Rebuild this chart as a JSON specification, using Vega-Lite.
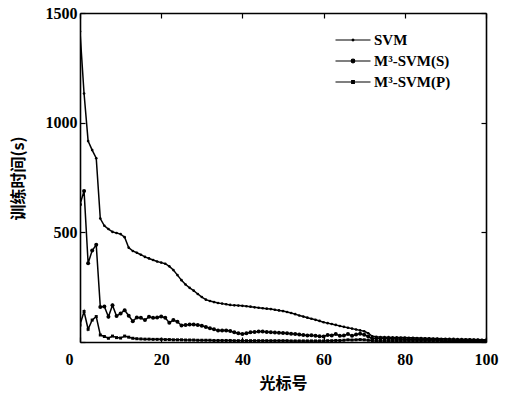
{
  "$schema": "https://vega.github.io/schema/vega-lite/v6.json",
  "autosize": "none",
  "width": 406,
  "height": 329,
  "padding": {"left": 80, "top": 13, "right": 20, "bottom": 54},
  "background": "white",
  "config": {
    "view": {"stroke": null},
    "font": "Liberation Serif",
    "axis": {"grid": false, "domainColor": "black", "domainWidth": 1.6, "tickColor": "black", "tickWidth": 1.2, "labelColor": "black", "titleColor": "black"}
  },
  "data": {
    "values": [
      {"x":0,"SVM":1416,"S":627,"P":78},
      {"x":1,"SVM":1133,"S":689,"P":139},
      {"x":2,"SVM":916,"S":359,"P":58},
      {"x":3,"SVM":875,"S":417,"P":100},
      {"x":4,"SVM":838,"S":443,"P":116},
      {"x":5,"SVM":563,"S":160,"P":32},
      {"x":6,"SVM":530,"S":162,"P":25},
      {"x":7,"SVM":515,"S":115,"P":17},
      {"x":8,"SVM":502,"S":168,"P":27},
      {"x":9,"SVM":497,"S":118,"P":20},
      {"x":10,"SVM":492,"S":130,"P":18},
      {"x":11,"SVM":478,"S":145,"P":27},
      {"x":12,"SVM":430,"S":120,"P":22},
      {"x":13,"SVM":415,"S":95,"P":17},
      {"x":14,"SVM":407,"S":112,"P":15},
      {"x":15,"SVM":398,"S":110,"P":14},
      {"x":16,"SVM":388,"S":100,"P":13},
      {"x":17,"SVM":381,"S":115,"P":13},
      {"x":18,"SVM":374,"S":110,"P":12},
      {"x":19,"SVM":367,"S":112,"P":12},
      {"x":20,"SVM":362,"S":116,"P":12},
      {"x":21,"SVM":357,"S":110,"P":11},
      {"x":22,"SVM":345,"S":88,"P":11},
      {"x":23,"SVM":328,"S":100,"P":10},
      {"x":24,"SVM":305,"S":92,"P":10},
      {"x":25,"SVM":282,"S":75,"P":10},
      {"x":26,"SVM":262,"S":78,"P":9},
      {"x":27,"SVM":247,"S":80,"P":9},
      {"x":28,"SVM":234,"S":80,"P":9},
      {"x":29,"SVM":219,"S":78,"P":8},
      {"x":30,"SVM":205,"S":74,"P":8},
      {"x":31,"SVM":193,"S":68,"P":8},
      {"x":32,"SVM":187,"S":63,"P":8},
      {"x":33,"SVM":182,"S":58,"P":7},
      {"x":34,"SVM":178,"S":52,"P":7},
      {"x":35,"SVM":175,"S":52,"P":7},
      {"x":36,"SVM":172,"S":53,"P":7},
      {"x":37,"SVM":169,"S":50,"P":7},
      {"x":38,"SVM":167,"S":44,"P":6},
      {"x":39,"SVM":166,"S":40,"P":6},
      {"x":40,"SVM":165,"S":37,"P":6},
      {"x":41,"SVM":163,"S":40,"P":6},
      {"x":42,"SVM":161,"S":44,"P":6},
      {"x":43,"SVM":158,"S":46,"P":6},
      {"x":44,"SVM":156,"S":48,"P":6},
      {"x":45,"SVM":154,"S":48,"P":6},
      {"x":46,"SVM":152,"S":46,"P":6},
      {"x":47,"SVM":150,"S":44,"P":6},
      {"x":48,"SVM":147,"S":43,"P":6},
      {"x":49,"SVM":144,"S":42,"P":6},
      {"x":50,"SVM":141,"S":41,"P":6},
      {"x":51,"SVM":137,"S":40,"P":6},
      {"x":52,"SVM":132,"S":38,"P":5},
      {"x":53,"SVM":127,"S":36,"P":5},
      {"x":54,"SVM":121,"S":34,"P":5},
      {"x":55,"SVM":116,"S":32,"P":5},
      {"x":56,"SVM":111,"S":30,"P":5},
      {"x":57,"SVM":106,"S":31,"P":5},
      {"x":58,"SVM":101,"S":28,"P":5},
      {"x":59,"SVM":96,"S":26,"P":5},
      {"x":60,"SVM":90,"S":25,"P":5},
      {"x":61,"SVM":86,"S":32,"P":6},
      {"x":62,"SVM":82,"S":30,"P":6},
      {"x":63,"SVM":78,"S":36,"P":7},
      {"x":64,"SVM":73,"S":28,"P":7},
      {"x":65,"SVM":69,"S":30,"P":8},
      {"x":66,"SVM":65,"S":36,"P":10},
      {"x":67,"SVM":61,"S":28,"P":9},
      {"x":68,"SVM":57,"S":34,"P":10},
      {"x":69,"SVM":53,"S":38,"P":11},
      {"x":70,"SVM":49,"S":33,"P":10},
      {"x":71,"SVM":40,"S":25,"P":8},
      {"x":72,"SVM":26,"S":15,"P":6},
      {"x":73,"SVM":24,"S":17,"P":5},
      {"x":74,"SVM":23,"S":16,"P":5},
      {"x":75,"SVM":22,"S":16,"P":5},
      {"x":76,"SVM":22,"S":15,"P":5},
      {"x":77,"SVM":21,"S":15,"P":5},
      {"x":78,"SVM":21,"S":14,"P":5},
      {"x":79,"SVM":20,"S":14,"P":4},
      {"x":80,"SVM":20,"S":13,"P":4},
      {"x":81,"SVM":19,"S":13,"P":4},
      {"x":82,"SVM":19,"S":12,"P":4},
      {"x":83,"SVM":18,"S":12,"P":4},
      {"x":84,"SVM":18,"S":11,"P":4},
      {"x":85,"SVM":17,"S":11,"P":4},
      {"x":86,"SVM":17,"S":10,"P":4},
      {"x":87,"SVM":16,"S":10,"P":4},
      {"x":88,"SVM":16,"S":10,"P":4},
      {"x":89,"SVM":15,"S":9,"P":4},
      {"x":90,"SVM":15,"S":9,"P":3},
      {"x":91,"SVM":14,"S":9,"P":3},
      {"x":92,"SVM":14,"S":8,"P":3},
      {"x":93,"SVM":13,"S":8,"P":3},
      {"x":94,"SVM":13,"S":8,"P":3},
      {"x":95,"SVM":12,"S":7,"P":3},
      {"x":96,"SVM":12,"S":7,"P":3},
      {"x":97,"SVM":11,"S":7,"P":3},
      {"x":98,"SVM":11,"S":6,"P":3},
      {"x":99,"SVM":10,"S":6,"P":3},
      {"x":100,"SVM":10,"S":6,"P":3}
    ]
  },
  "transform": [{"fold": ["SVM", "S", "P"], "as": ["series", "time"]}],
  "layer": [
    {
      "mark": {"type": "line", "stroke": "black", "strokeWidth": 1.5, "clip": true},
      "encoding": {
        "x": {"field": "x", "type": "quantitative", "scale": {"domain": [0, 100], "nice": false},
          "axis": {"orient": "bottom", "values": [0, 20, 40, 60, 80, 100], "format": "d", "tickSize": -5, "labelPadding": 14, "labelFont": "Liberation Serif", "labelFontSize": 16, "labelFontWeight": "bold", "labelBaseline": "top",
            "labelOffset": {"condition": {"test": "datum.value == 0", "value": -11}, "value": 0},
            "labelFlush": false,
            "title": "光标号", "titleFont": "Noto Sans CJK SC", "titleFontSize": 16, "titleFontWeight": "bold", "titleX": 203, "titleY": 41, "titleBaseline": "middle"}},
        "y": {"field": "time", "type": "quantitative", "scale": {"domain": [0, 1500], "nice": false},
          "axis": {"orient": "left", "values": [0, 500, 1000, 1500], "format": "d", "tickSize": -5, "labelPadding": 8, "labelFont": "Liberation Serif", "labelFontSize": 16, "labelFontWeight": "bold",
            "labelExpr": "datum.value == 0 ? '' : datum.label", "labelFlush": false,
            "title": "训练时间(s)", "titleFont": "Noto Sans CJK SC", "titleFontSize": 16, "titleFontWeight": "bold", "titleAngle": -90, "titleX": -62, "titleY": 165, "titleBaseline": "middle", "titleAlign": "center"}},
        "color": {"field": "series", "type": "nominal",
          "scale": {"domain": ["SVM", "S", "P"], "range": ["black", "black", "black"]},
          "legend": {
            "orient": "none", "legendX": 265, "legendY": 19, "title": null,
            "symbolSize": 196, "symbolStrokeWidth": 1.2, "symbolFillColor": "black", "symbolStrokeColor": "black",
            "labelFont": "Liberation Serif", "labelFontSize": 15, "labelFontWeight": "bold", "labelOffset": 13, "rowPadding": 5,
            "labelExpr": "datum.value == 'SVM' ? 'SVM' : datum.value == 'S' ? 'M³-SVM(S)' : 'M³-SVM(P)'",
            "encode": {"symbols": {"update": {
              "shape": {"signal": "datum.value == 'SVM' ? 'M-2.5,0H2.5M-0.14,0a0.14,0.14 0 1,0 0.28,0a0.14,0.14 0 1,0 -0.28,0' : datum.value == 'S' ? 'M-2.5,0H2.5M-0.26,0a0.26,0.26 0 1,0 0.52,0a0.26,0.26 0 1,0 -0.52,0' : 'M-2.5,0H2.5M-0.19,-0.19h0.38v0.38h-0.38z'"},
              "fill": {"value": "black"}, "stroke": {"value": "black"}, "strokeWidth": {"value": 1.2}, "opacity": {"value": 1}
            }}}
          }}
      }
    },
    {
      "transform": [{"filter": "datum.series == 'SVM'"}],
      "mark": {"type": "point", "filled": true, "color": "black", "opacity": 1, "size": 7, "shape": "circle", "clip": true},
      "encoding": {
        "x": {"field": "x", "type": "quantitative", "axis": null},
        "y": {"field": "time", "type": "quantitative", "axis": null}
      }
    },
    {
      "transform": [{"filter": "datum.series == 'S'"}],
      "mark": {"type": "point", "filled": true, "color": "black", "opacity": 1, "size": 16, "shape": "circle", "clip": true},
      "encoding": {
        "x": {"field": "x", "type": "quantitative", "axis": null},
        "y": {"field": "time", "type": "quantitative", "axis": null}
      }
    },
    {
      "transform": [{"filter": "datum.series == 'P'"}],
      "mark": {"type": "point", "filled": true, "color": "black", "opacity": 1, "size": 9, "shape": "square", "clip": true},
      "encoding": {
        "x": {"field": "x", "type": "quantitative", "axis": null},
        "y": {"field": "time", "type": "quantitative", "axis": null}
      }
    },
    {
      "mark": {"type": "point", "opacity": 0},
      "encoding": {
        "x": {"field": "x", "type": "quantitative", "axis": {"orient": "top", "values": [0, 20, 40, 60, 80, 100], "tickSize": -5, "labels": false, "title": null}},
        "y": {"field": "time", "type": "quantitative", "axis": {"orient": "right", "values": [0, 500, 1000, 1500], "tickSize": -5, "labels": false, "title": null}}
      }
    }
  ],
  "resolve": {"axis": {"x": "independent", "y": "independent"}}
}
